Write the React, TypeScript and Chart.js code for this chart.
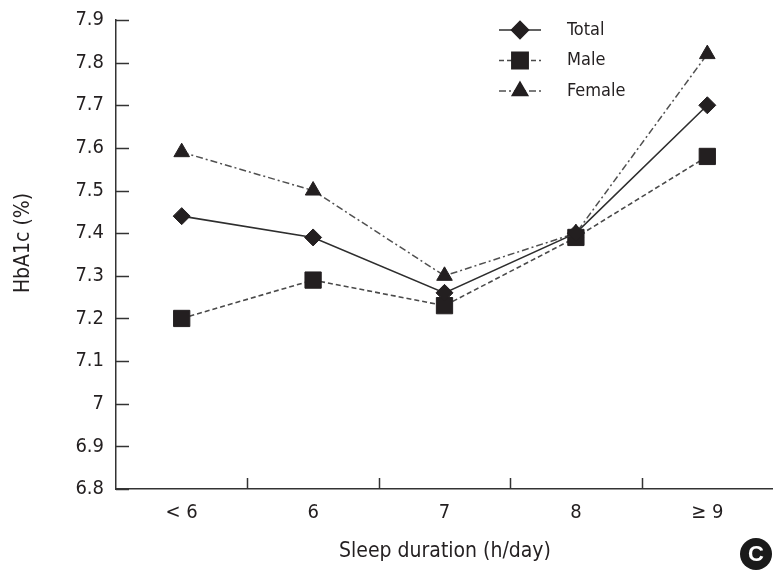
import React, { useEffect, useRef } from 'react';
import { Chart, registerables } from 'chart.js';
import { drawPoint } from 'chart.js/helpers';

Chart.register(...registerables);

const categories = ['< 6', '6', '7', '8', '≥ 9'];
const seriesNames = ['Total', 'Male', 'Female'];
const totalValues = [7.44, 7.39, 7.26, 7.4, 7.7];
const maleValues = [7.2, 7.29, 7.23, 7.39, 7.58];
const femaleValues = [7.59, 7.5, 7.3, 7.4, 7.82];
const yTickValues = [6.8, 6.9, 7.0, 7.1, 7.2, 7.3, 7.4, 7.5, 7.6, 7.7, 7.8, 7.9];
const yTitle = 'HbA1c (%)';
const xTitle = 'Sleep duration (h/day)';
const panelLabel = 'C';

const FONT = "'Liberation Sans Narrow', 'Arial Narrow', 'DejaVu Sans Condensed', sans-serif";
const TEXT = '#231f20';
const AXIS = '#333333';

const decorPlugin = {
  id: 'decor',
  afterDraw(chart: any) {
    const { ctx, chartArea, scales } = chart;
    const xs = scales.x;
    const ys = scales.y;
    ctx.save();
    ctx.strokeStyle = AXIS;
    ctx.lineWidth = 1.5;
    // inward y ticks
    ys.ticks.forEach((t: any) => {
      const py = Math.round(ys.getPixelForValue(t.value)) + 0.5;
      ctx.beginPath();
      ctx.moveTo(chartArea.left, py);
      ctx.lineTo(chartArea.left + 13, py);
      ctx.stroke();
    });
    // inward x ticks between categories
    for (let i = 1; i < categories.length; i++) {
      const px = Math.round((xs.getPixelForValue(i - 1) + xs.getPixelForValue(i)) / 2) + 0.5;
      ctx.beginPath();
      ctx.moveTo(px, chartArea.bottom);
      ctx.lineTo(px, chartArea.bottom - 11);
      ctx.stroke();
    }
    // legend
    chart.data.datasets.forEach((ds: any, i: number) => {
      const ly = 30 + i * 30.5;
      ctx.save();
      ctx.strokeStyle = ds.borderColor;
      ctx.lineWidth = ds.borderWidth;
      ctx.setLineDash(ds.borderDash || []);
      ctx.beginPath();
      ctx.moveTo(499, ly);
      ctx.lineTo(541, ly);
      ctx.stroke();
      ctx.setLineDash([]);
      ctx.fillStyle = ds.pointBackgroundColor;
      ctx.strokeStyle = ds.pointBorderColor;
      drawPoint(ctx, { pointStyle: ds.pointStyle, radius: ds.pointRadius, borderWidth: ds.pointBorderWidth, rotation: 0 }, 520, ly);
      ctx.restore();
      ctx.fillStyle = TEXT;
      ctx.font = `18px ${FONT}`;
      ctx.textAlign = 'left';
      ctx.textBaseline = 'middle';
      ctx.fillText(ds.label, 567, ly);
    });
    // axis titles
    ctx.fillStyle = TEXT;
    ctx.font = `21px ${FONT}`;
    ctx.textAlign = 'center';
    ctx.textBaseline = 'middle';
    ctx.fillText(xTitle, 445, 552);
    ctx.save();
    ctx.translate(24, 243);
    ctx.rotate(-Math.PI / 2);
    ctx.fillText(yTitle, 0, 0);
    ctx.restore();
    // panel badge
    ctx.beginPath();
    ctx.fillStyle = '#1a1a1a';
    ctx.arc(756, 554, 16, 0, Math.PI * 2);
    ctx.fill();
    ctx.fillStyle = '#ffffff';
    ctx.font = `bold 22px 'Liberation Sans', Arial, sans-serif`;
    ctx.fillText(panelLabel, 756, 555);
    ctx.restore();
  },
};

export default function App() {
  const ref = useRef<HTMLCanvasElement>(null);
  useEffect(() => {
    if (!ref.current) return;
    const marker = {
      pointBackgroundColor: '#231f20',
      pointBorderColor: '#231f20',
      pointBorderWidth: 1,
    };
    const chart = new Chart(ref.current, {
      type: 'line',
      data: {
        labels: categories,
        datasets: [
          {
            label: seriesNames[0],
            data: totalValues,
            borderColor: '#2e2e2e',
            borderWidth: 1.6,
            borderDash: [],
            pointStyle: 'rectRot',
            pointRadius: 8.5,
            ...marker,
          },
          {
            label: seriesNames[1],
            data: maleValues,
            borderColor: '#4a4a4a',
            borderWidth: 1.6,
            borderDash: [5, 3],
            pointStyle: 'rect',
            pointRadius: 11.5,
            ...marker,
          },
          {
            label: seriesNames[2],
            data: femaleValues,
            borderColor: '#505050',
            borderWidth: 1.5,
            borderDash: [7, 3, 2, 3],
            pointStyle: 'triangle',
            pointRadius: 9,
            ...marker,
          },
        ] as any,
      },
      options: {
        animation: false,
        responsive: true,
        maintainAspectRatio: false,
        layout: { autoPadding: false, padding: { top: 20, right: -4, left: 0, bottom: 0 } },
        plugins: { legend: { display: false }, tooltip: { enabled: false }, title: { display: false } },
        scales: {
          x: {
            type: 'category',
            offset: true,
            grid: { display: false, drawTicks: false, offset: true },
            border: { display: true, color: AXIS, width: 1.5 },
            ticks: { color: TEXT, font: { family: FONT, size: 20 }, padding: 12, maxRotation: 0 },
            afterFit: (s: any) => { s.height = 84; s.paddingRight = 0; s.paddingLeft = 0; },
          },
          y: {
            min: yTickValues[0],
            max: yTickValues[yTickValues.length - 1],
            grid: { display: false, drawTicks: false },
            border: { display: true, color: AXIS, width: 1.5 },
            afterBuildTicks: (s: any) => { s.ticks = yTickValues.map((v) => ({ value: v })); },
            ticks: {
              color: TEXT,
              font: { family: FONT, size: 20 },
              padding: 12,
              callback: (v: any) => String(Math.round(Number(v) * 10) / 10),
            },
            afterFit: (s: any) => { s.width = 116; s.paddingTop = 0; s.paddingBottom = 0; },
          },
        },
      } as any,
      plugins: [decorPlugin],
    });
    return () => chart.destroy();
  }, []);
  return (
    <div style={{ position: 'fixed', left: 0, top: 0, width: 773, height: 573, background: '#fff', overflow: 'hidden' }}>
      <canvas ref={ref} />
    </div>
  );
}
